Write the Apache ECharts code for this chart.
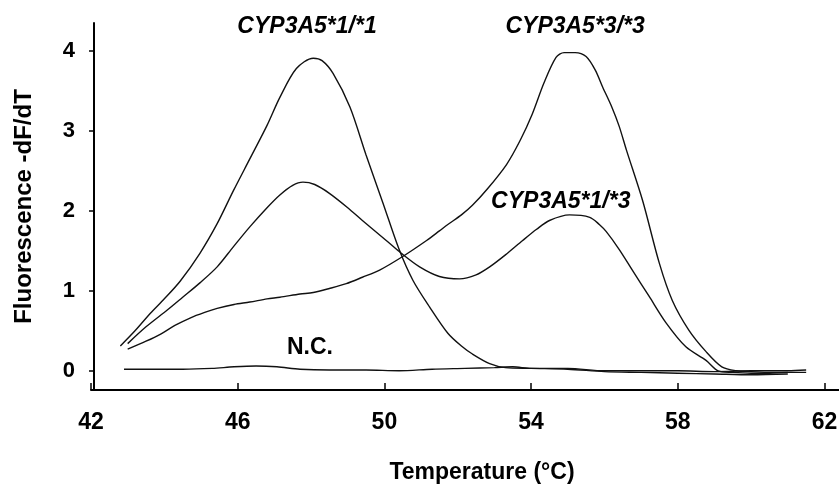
<!DOCTYPE html>
<html><head><meta charset="utf-8">
<script src="https://cdn.jsdelivr.net/npm/echarts@6/dist/echarts.min.js"></script>
<style>html,body{margin:0;padding:0;background:#fff}#c{width:839px;height:484px}</style>
</head><body><div id="c"></div>
<script>
// Temperature (°C) vs Fluorescence -dF/dT
const xTicks = [42, 46, 50, 54, 58, 62];
const yTicks = [0, 1, 2, 3, 4];

const cyp11 = [[42.8,0.31],[43.2,0.5],[43.62,0.72],[44.0,0.9],[44.43,1.12],[44.97,1.47],[45.44,1.84],[45.88,2.25],[46.33,2.65],[46.8,3.07],[47.15,3.42],[47.6,3.78],[48.06,3.91],[48.3,3.88],[48.6,3.72],[49.06,3.3],[49.5,2.7],[49.96,2.1],[50.4,1.52],[50.78,1.13],[51.23,0.8],[51.73,0.47],[52.1,0.31],[52.4,0.21],[52.87,0.09],[53.3,0.04],[54.0,0.03],[55.0,0.02],[56.0,-0.01],[57.0,-0.02],[58.0,-0.03],[59.0,-0.04],[60.0,-0.05],[61.0,-0.04]];

const cyp13 = [[43.0,0.34],[43.5,0.55],[44.08,0.76],[44.5,0.92],[44.97,1.1],[45.44,1.3],[45.88,1.55],[46.33,1.8],[46.8,2.04],[47.15,2.2],[47.5,2.32],[47.78,2.36],[48.1,2.33],[48.5,2.22],[49.0,2.04],[49.4,1.88],[50.05,1.63],[50.46,1.47],[50.96,1.3],[51.5,1.18],[52.05,1.15],[52.5,1.2],[52.87,1.3],[53.3,1.45],[53.77,1.63],[54.15,1.77],[54.5,1.88],[55.05,1.95],[55.6,1.92],[55.86,1.83],[56.05,1.74],[56.4,1.52],[56.76,1.26],[57.22,0.93],[57.68,0.6],[58.22,0.3],[58.77,0.13],[59.1,0.0],[59.5,-0.02],[60.0,-0.03],[60.5,-0.03],[61.0,-0.02]];

const cyp33 = [[43.0,0.27],[43.5,0.37],[43.9,0.46],[44.3,0.57],[44.7,0.66],[45.1,0.73],[45.44,0.78],[45.9,0.83],[46.33,0.86],[46.8,0.9],[47.15,0.92],[47.7,0.96],[48.06,0.98],[48.5,1.03],[48.96,1.09],[49.4,1.17],[49.87,1.26],[50.5,1.43],[51.15,1.63],[51.5,1.75],[51.73,1.83],[52.1,1.95],[52.4,2.07],[52.8,2.27],[53.33,2.58],[53.7,2.88],[54.03,3.21],[54.35,3.6],[54.68,3.92],[54.9,3.98],[55.2,3.98],[55.5,3.93],[55.75,3.76],[55.95,3.55],[56.2,3.3],[56.4,3.06],[56.6,2.76],[57.04,2.13],[57.5,1.34],[57.85,0.88],[58.3,0.51],[58.77,0.24],[59.2,0.05],[59.6,0.0],[60.0,-0.01],[60.5,-0.02],[61.0,-0.02],[61.5,-0.02]];

const negCtrl = [[42.9,0.02],[43.5,0.02],[44.5,0.02],[45.3,0.03],[45.9,0.05],[46.5,0.06],[47.07,0.05],[47.7,0.02],[48.5,0.01],[49.5,0.01],[50.4,0.0],[51.3,0.02],[52.2,0.03],[53.0,0.04],[53.5,0.05],[54.0,0.03],[55.0,0.03],[56.0,0.0],[57.0,0.0],[58.0,0.0],[59.0,-0.01],[60.0,0.0],[61.0,0.0],[61.5,0.01]];

const labelNames = ['CYP3A5*1/*1', 'CYP3A5*3/*3', 'CYP3A5*1/*3', 'N.C.'];
const labelPos = [[47.89,4.30],[55.2,4.30],[54.81,2.12],[47.97,0.29]];
const labelItalic = [true, true, true, false];

const FONT = '"Liberation Sans", Arial, Helvetica, sans-serif';
const chart = echarts.init(document.getElementById('c'), null, {renderer:'canvas'});

const lineSeries = (name, data) => ({
  name, type:'line', data, showSymbol:false, symbol:'none', smooth:0.3,
  lineStyle:{color:'#111', width:1.4}, animation:false, z:2
});

chart.setOption({
  animation:false,
  backgroundColor:'#fff',
  grid:{left:91, right:-2, top:23, bottom:94, containLabel:false, outerBoundsMode:'none'},
  xAxis:{
    type:'value', min:42, max:62.45,
    name:'Temperature (°C)', nameLocation:'middle', nameGap:71,
    nameTextStyle:{fontFamily:FONT, fontWeight:'bold', fontSize:23, color:'#000', padding:[0,0,0,32]},
    axisLine:{show:true, onZero:false, lineStyle:{color:'#000', width:2}},
    axisTick:{show:true, inside:true, length:7, customValues:xTicks, lineStyle:{color:'#000', width:1.5}},
    axisLabel:{customValues:xTicks, margin:21, fontFamily:FONT, fontWeight:'bold', fontSize:23, color:'#000'},
    splitLine:{show:false}
  },
  yAxis:{
    type:'value', min:-0.24, max:4.35, offset:-3,
    name:'Fluorescence -dF/dT', nameLocation:'middle', nameGap:58,
    nameTextStyle:{fontFamily:FONT, fontWeight:'bold', fontSize:24, color:'#000'},
    axisLine:{show:true, onZero:false, lineStyle:{color:'#000', width:2}},
    axisTick:{show:true, inside:false, length:5, customValues:yTicks, lineStyle:{color:'#000', width:1.5}},
    axisLabel:{customValues:yTicks, margin:19, fontFamily:FONT, fontWeight:'bold', fontSize:22, color:'#000'},
    splitLine:{show:false}
  },
  series:[
    lineSeries('CYP3A5*1/*1', cyp11),
    lineSeries('CYP3A5*1/*3', cyp13),
    lineSeries('CYP3A5*3/*3', cyp33),
    lineSeries('N.C.', negCtrl),
    {
      type:'scatter', symbolSize:0, itemStyle:{color:'#000', opacity:1}, clip:false, z:5,
      emphasis:{disabled:true},
      data: labelNames.map((n,i)=>({name:n, value:labelPos[i],
        label:{show:true, position:'inside', formatter:n, fontStyle: labelItalic[i]?'italic':'normal',
          fontFamily:FONT, fontWeight:'bold', fontSize:23, color:'#000', opacity:1,
          textBorderWidth:0, align:'center', verticalAlign:'middle'}})),
      silent:true
    }
  ]
});
</script></body></html>
